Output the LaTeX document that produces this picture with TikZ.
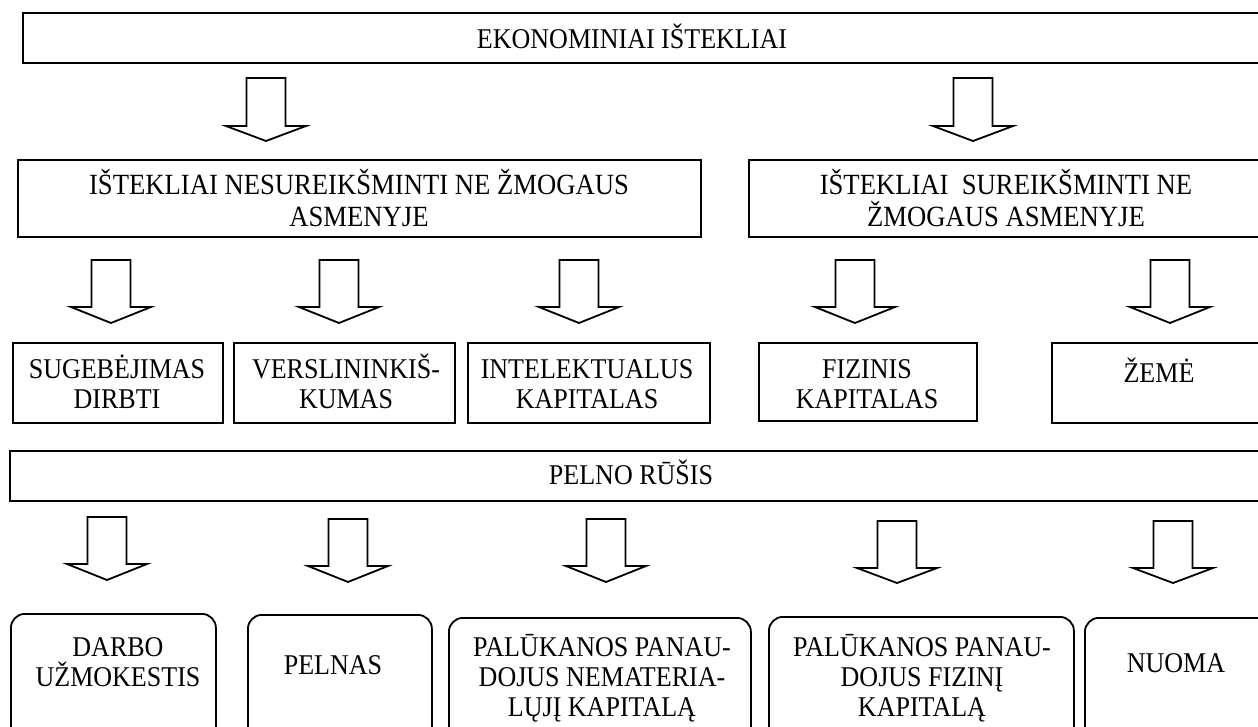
\documentclass[tikz,border=0pt]{standalone}
\usepackage{fontspec}
\setmainfont[FakeStretch=0.91]{Liberation Serif}
\newcommand\tfont{\fontsize{28.6}{30}\selectfont}
\newcommand\tfontb{\fontsize{29.3}{32}\selectfont}
\newcommand\ts{\rule{0pt}{31pt}}
\newcommand\bs{\rule[-12pt]{0pt}{12pt}}
\newcommand\blkarrow[4]{%
  \draw[blk] ({#1-19.5},#2) -- ({#1+19.5},#2) -- ({#1+19.5},#3) -- ({#1+40},#3)
    -- (#1,#4) -- ({#1-40},#3) -- ({#1-19.5},#3) -- cycle;}
\begin{document}
\begin{tikzpicture}[x=1pt,y=-1pt,
  box/.style={draw=black, line width=1.8pt, fill=white, inner sep=0pt, anchor=north west},
  rbox/.style={box, rounded corners=14pt},
  txt/.style={inner sep=0pt, align=center, font=\tfont},
  txtb/.style={txt, font=\tfontb},
  blk/.style={draw=black, line width=1.8pt, fill=white, line join=miter}]
\useasboundingbox (0,0) rectangle (1258,726);
\clip (0,0) rectangle (1258,726);
\fill[white] (0,0) rectangle (1258,726);

% row 1
\node[box, minimum width=1250pt, minimum height=50pt] (ekon) at (22,12) {};
\node[txt] (ekont) at (632,39) {\ts EKONOMINIAI IŠTEKLIAI\bs};

% row 2
\node[box, minimum width=683pt, minimum height=77pt] (nesur) at (17,159) {};
\node[txtb] (nesurt) at (359,201) {\ts IŠTEKLIAI NESUREIKŠMINTI NE ŽMOGAUS\\ASMENYJE\bs};
\node[box, minimum width=520pt, minimum height=77pt] (sur) at (748,159) {};
\node[txtb] (surt) at (1006,201) {\ts IŠTEKLIAI\ \ SUREIKŠMINTI NE\\ŽMOGAUS ASMENYJE\bs};

% row 3
\node[box, minimum width=210pt, minimum height=80pt] (sug) at (12,342) {};
\node[txt] (sugt) at (117,383.5) {\ts SUGEBĖJIMAS\\DIRBTI\bs};
\node[box, minimum width=221pt, minimum height=80pt] (vers) at (233,342) {};
\node[txt] (verst) at (346,383.5) {\ts VERSLININKIŠ-\\KUMAS\bs};
\node[box, minimum width=242pt, minimum height=80pt] (intel) at (467,342) {};
\node[txt] (intelt) at (587,383.5) {\ts INTELEKTUALUS\\KAPITALAS\bs};
\node[box, minimum width=218pt, minimum height=78pt] (fiz) at (758,342) {};
\node[txt] (fizt) at (867,384) {\ts FIZINIS\\KAPITALAS\bs};
\node[box, minimum width=220pt, minimum height=80pt] (zeme) at (1051,342) {};
\node[txt] (zemet) at (1159,372.5) {\ts ŽEMĖ\bs};

% row 4
\node[box, minimum width=1260pt, minimum height=50pt] (pelno) at (9,450) {};
\node[txt] (pelnot) at (631,475) {\ts PELNO RŪŠIS\bs};

% row 5
\node[rbox, minimum width=205pt, minimum height=130pt] (darbo) at (10,613) {};
\node[txt] (darbot) at (118,662) {\ts DARBO\\UŽMOKESTIS\bs};
\node[rbox, minimum width=184pt, minimum height=130pt] (pelnas) at (247,614) {};
\node[txt] (pelnast) at (333,664.5) {\ts PELNAS\bs};
\node[rbox, minimum width=302pt, minimum height=130pt] (pal1) at (448,617) {};
\node[txt] (pal1t) at (602,677) {\ts PALŪKANOS PANAU-\\DOJUS NEMATERIA-\\LŲJĮ KAPITALĄ\bs};
\node[rbox, minimum width=305pt, minimum height=130pt] (pal2) at (768,616) {};
\node[txt] (pal2t) at (922,677) {\ts PALŪKANOS PANAU-\\DOJUS FIZINĮ\\KAPITALĄ\bs};
\node[rbox, minimum width=200pt, minimum height=130pt] (nuoma) at (1084,617) {};
\node[txt] (nuomat) at (1176,662.5) {\ts NUOMA\bs};

% block arrows
\blkarrow{266}{78}{126}{141}
\blkarrow{973}{78}{126}{141}
\blkarrow{111}{260}{307}{323}
\blkarrow{339}{260}{307}{323}
\blkarrow{579}{260}{307}{323}
\blkarrow{855}{260}{307}{323}
\blkarrow{1170}{260}{307}{323}
\blkarrow{107}{517}{564}{580}
\blkarrow{348}{519}{566}{582}
\blkarrow{606}{519}{566}{582}
\blkarrow{897}{521}{568}{583}
\blkarrow{1173}{521}{568}{583}
\end{tikzpicture}
\end{document}
